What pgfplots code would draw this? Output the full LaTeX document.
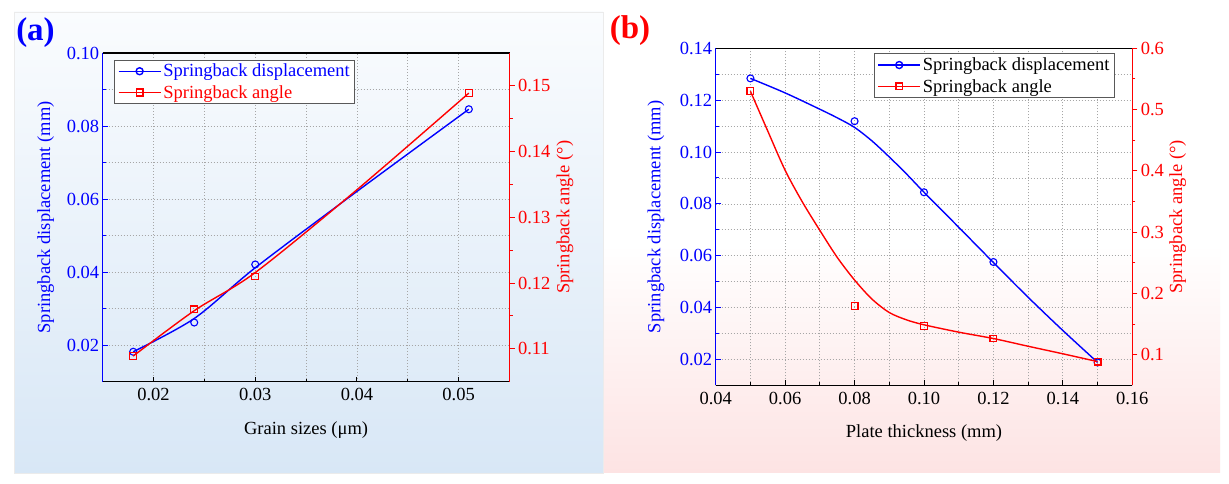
\documentclass[border=0pt]{standalone}
\usepackage{pgfplots}
\pgfplotsset{compat=1.18}
\usepackage{fontspec}
\setmainfont{Liberation Serif}
\definecolor{bgblue}{HTML}{D8E7F6}
\definecolor{bgtop}{HTML}{FAFCFE}
\definecolor{bgpink}{HTML}{FDE3E3}
\newcommand\fs{\fontsize{18.5pt}{22pt}\selectfont}

% ---------- data ----------
\pgfplotstableread{
x y
0.018 0.0182
0.024 0.0262
0.030 0.0421
0.051 0.0846
}\aDispPts
\pgfplotstableread{
x y
0.018 0.1089
0.024 0.1160
0.030 0.1210
0.051 0.1489
}\aAnglePts
\pgfplotstableread{
x y
0.018 0.0182
0.024 0.0273
0.030 0.0412
0.040 0.0621
0.051 0.0846
}\aDispCurve
\pgfplotstableread{
x y
0.018 0.1089
0.024 0.1158
0.030 0.1216
0.040 0.1342
0.051 0.1489
}\aAngleCurve
\pgfplotstableread{
x y
0.05 0.1284
0.08 0.1119
0.10 0.0845
0.12 0.0576
0.15 0.0189
}\bDispPts
\pgfplotstableread{
x y
0.05 0.530
0.08 0.180
0.10 0.147
0.12 0.1266
0.15 0.089
}\bAnglePts
\pgfplotstableread{
x y
0.050 0.1284
0.060 0.1228
0.070 0.1165
0.075 0.1132
0.080 0.1095
0.085 0.1043
0.090 0.0981
0.095 0.0915
0.100 0.0845
0.110 0.0710
0.120 0.0574
0.130 0.0440
0.140 0.0312
0.150 0.0189
}\bDispCurve
\pgfplotstableread{
x y
0.050 0.530
0.055 0.465
0.060 0.401
0.065 0.349
0.070 0.303
0.075 0.259
0.080 0.222
0.085 0.191
0.090 0.169
0.095 0.157
0.100 0.149
0.110 0.137
0.120 0.1266
0.130 0.114
0.140 0.1017
0.150 0.089
}\bAngleCurve

\pgfplotsset{
  base/.style={scale only axis, scaled ticks=false,
    /pgf/number format/assume math mode=true,
    tick label style={font=\fs},
    major tick length=5pt, minor tick length=3pt},
  leftax/.style={base, separate axis lines,
    x axis line style={black, line width=1.2pt},
    y axis line style={blue, line width=1.2pt},
    xtick pos=bottom, ytick pos=left, tick align=inside,
    grid=both,
    major grid style={dash pattern=on 1pt off 2pt, black!35, line width=0.8pt},
    minor grid style={dash pattern=on 1pt off 2pt, black!35, line width=0.8pt},
    x tick style={black, line width=1pt},
    y tick style={blue, line width=1pt},
    yticklabel style={blue},
    xticklabel style={black, yshift=-3pt},
    /pgf/number format/fixed, /pgf/number format/fixed zerofill,
    /pgf/number format/precision=2},
  rightax/.style={base, axis x line=none, axis y line*=right, tick align=outside,
    y axis line style={red, line width=1.2pt},
    y tick style={red, line width=1pt},
    yticklabel style={red},
    /pgf/number format/fixed, /pgf/number format/fixed zerofill},
  bluecurve/.style={blue, line width=1.4pt, smooth, tension=0.5, no marks},
  redcurve/.style={red, line width=1.4pt, smooth, tension=0.5, no marks},
  bluepts/.style={blue, only marks, mark=o, mark size=3.5pt, line width=1.1pt},
  redpts/.style={red, only marks, mark=square, mark size=3.4pt, line width=1.1pt},
  lgimg/.style={legend image code/.code={%
    \draw[##1, mark repeat=2, mark phase=2] plot coordinates {(0pt,0pt) (21pt,0pt) (42pt,0pt)};}},
  lgstyle/.style={legend style={at={#1}, anchor=north west,
    draw=black!65, line width=1pt, fill=white, font=\fs,
    inner xsep=3pt, inner ysep=2pt, row sep=3pt,
    /tikz/every even column/.append style={column sep=4pt}},
    legend cell align=left},
}

\begin{document}
\begin{tikzpicture}
\path[fill=white] (0,0) rectangle (1229pt,484pt);
% panel backgrounds
\shade[top color=bgtop, bottom color=bgblue] (14pt,11pt) rectangle (603pt,472pt);
\draw[black!8, line width=0.8pt] (14pt,11pt) rectangle (603pt,472pt);
\shade[top color=white, bottom color=bgpink] (604pt,11pt) rectangle (1220pt,240pt);
\node[font=\fontsize{33pt}{36pt}\selectfont\bfseries, text=blue] at (35.5pt,451pt) {(a)};
\node[font=\fontsize{33pt}{36pt}\selectfont\bfseries, text=red] at (630pt,453pt) {(b)};

% ================= panel (a) =================
\begin{axis}[leftax,
  at={(102.7pt,102.3pt)}, anchor=south west, width=406.8pt, height=328.7pt,
  xmin=0.015, xmax=0.055, ymin=0.01, ymax=0.10,
  xtick={0.02,0.03,0.04,0.05}, minor xtick={0.025,0.035,0.045},
  ytick={0.02,0.04,0.06,0.08,0.10}, minor ytick={0.03,0.05,0.07,0.09},
  xlabel={Grain sizes (μm)}, ylabel={Springback displacement (mm)},
  every axis x label/.style={at={(axis description cs:0.5,-0.147)}, anchor=center, font=\fs},
  every axis y label/.style={at={(axis description cs:-0.1404,0.5)}, rotate=90, anchor=center, text=blue, font=\fs},
]
\addplot[bluecurve] table {\aDispCurve};
\addplot[bluepts] table {\aDispPts};
\end{axis}
\begin{axis}[rightax, lgimg, lgstyle={(axis description cs:0.0288,0.98)},
  at={(102.7pt,102.3pt)}, anchor=south west, width=406.8pt, height=328.7pt,
  xmin=0.015, xmax=0.055, ymin=0.105, ymax=0.155,
  ytick={0.11,0.12,0.13,0.14,0.15}, minor ytick={0.115,0.125,0.135,0.145},
  /pgf/number format/precision=2,
  ylabel={Springback angle (°)},
  every axis y label/.style={at={(axis description cs:1.1365,0.5)}, rotate=90, anchor=center, text=red, font=\fs},
]
\addlegendimage{blue, line width=1.4pt, mark=o, mark size=3.5pt}
\addlegendentry{\textcolor{blue}{Springback displacement}}
\addlegendimage{red, line width=1.4pt, mark=square, mark size=3.4pt}
\addlegendentry{\textcolor{red}{Springback angle}}
\addplot[redcurve, forget plot] table {\aAngleCurve};
\addplot[redpts, forget plot] table {\aAnglePts};
\end{axis}

% ================= panel (b) =================
\begin{axis}[leftax,
  at={(715.7pt,98.5pt)}, anchor=south west, width=416.6pt, height=337.2pt,
  xmin=0.04, xmax=0.16, ymin=0.01, ymax=0.14,
  xtick={0.04,0.06,0.08,0.10,0.12,0.14,0.16}, minor xtick={0.05,0.07,0.09,0.11,0.13,0.15},
  ytick={0.02,0.04,0.06,0.08,0.10,0.12,0.14}, minor ytick={0.03,0.05,0.07,0.09,0.11,0.13},
  xlabel={Plate thickness (mm)}, ylabel={Springback displacement (mm)},
  every axis x label/.style={at={(axis description cs:0.5,-0.1403)}, anchor=center, font=\fs},
  every axis y label/.style={at={(axis description cs:-0.1433,0.5)}, rotate=90, anchor=center, text=blue, font=\fs},
]
\addplot[bluecurve] table {\bDispCurve};
\addplot[bluepts] table {\bDispPts};
\end{axis}
\begin{axis}[rightax, lgimg, lgstyle={(axis description cs:0.380,0.985)},
  at={(715.7pt,98.5pt)}, anchor=south west, width=416.6pt, height=337.2pt,
  xmin=0.04, xmax=0.16, ymin=0.05, ymax=0.6,
  ytick={0.1,0.2,0.3,0.4,0.5,0.6}, minor ytick={0.15,0.25,0.35,0.45,0.55},
  /pgf/number format/precision=1,
  ylabel={Springback angle (°)},
  every axis y label/.style={at={(axis description cs:1.1088,0.5)}, rotate=90, anchor=center, text=red, font=\fs},
]
\addlegendimage{blue, line width=1.4pt, mark=o, mark size=3.5pt}
\addlegendentry{Springback displacement}
\addlegendimage{red, line width=1.4pt, mark=square, mark size=3.4pt}
\addlegendentry{Springback angle}
\addplot[redcurve, forget plot] table {\bAngleCurve};
\addplot[redpts, forget plot] table {\bAnglePts};
\end{axis}
\end{tikzpicture}
\end{document}
